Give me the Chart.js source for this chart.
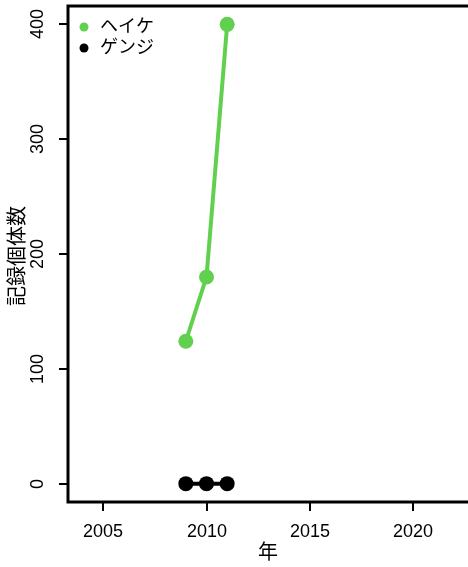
<!DOCTYPE html>
<html>
<head>
<meta charset="utf-8">
<script src="https://cdn.jsdelivr.net/npm/chart.js@4"></script>
<style>
  html, body { margin: 0; padding: 0; background: #fff; overflow: hidden; }
</style>
</head>
<body>
<canvas id="c" width="468" height="567"></canvas>
<script>
    "use strict";

    var years = [2009, 2010, 2011];
    var heikeCounts = [124, 180, 400];
    var genjiCounts = [0, 0, 0];
    var seriesNames = ['ヘイケ', 'ゲンジ'];
    var seriesColors = ['#61D04F', '#000000'];
    var xTicks = [2005, 2010, 2015, 2020];
    var yTicks = [0, 100, 200, 300, 400];
    var xTitle = '年';
    var yTitle = '記録個体数';

    var FONT = '18px "Liberation Sans", Arial, "Noto Sans CJK JP", sans-serif';
    var TITLE_FONT = '20px "Liberation Sans", Arial, "Noto Sans CJK JP", sans-serif';

    function toPoints(xs, ys) {
        return xs.map(function (x, i) { return { x: x, y: ys[i] }; });
    }

    // axes, box, legend drawn like base R graphics
    var baseAxes = {
        id: 'baseAxes',
        afterDraw: function (chart) {
            var ctx = chart.ctx;
            var a = chart.chartArea;
            var xs = chart.scales.x, ys = chart.scales.y;
            ctx.save();
            ctx.strokeStyle = '#000';
            ctx.fillStyle = '#000';
            ctx.lineWidth = 3;
            // box: right side runs off the page
            ctx.beginPath();
            ctx.moveTo(a.right + 5, a.top);
            ctx.lineTo(a.left, a.top);
            ctx.lineTo(a.left, a.bottom);
            ctx.lineTo(a.right + 5, a.bottom);
            ctx.stroke();

            ctx.lineWidth = 2;
            ctx.font = FONT;
            // x ticks
            ctx.textAlign = 'center';
            ctx.textBaseline = 'middle';
            xTicks.forEach(function (t) {
                var px = Math.round(xs.getPixelForValue(t));
                ctx.beginPath();
                ctx.moveTo(px, a.bottom);
                ctx.lineTo(px, a.bottom + 9);
                ctx.stroke();
                ctx.fillText(String(t), px, a.bottom + 30);
            });
            // y ticks, labels rotated
            yTicks.forEach(function (t) {
                var py = Math.round(ys.getPixelForValue(t));
                ctx.beginPath();
                ctx.moveTo(a.left, py);
                ctx.lineTo(a.left - 9, py);
                ctx.stroke();
                ctx.save();
                ctx.translate(a.left - 30, py);
                ctx.rotate(-Math.PI / 2);
                ctx.fillText(String(t), 0, 0);
                ctx.restore();
            });
            // titles
            ctx.font = TITLE_FONT;
            ctx.fillText(xTitle, 268, a.bottom + 51);
            ctx.save();
            ctx.translate(18, 256);
            ctx.rotate(-Math.PI / 2);
            ctx.fillText(yTitle, 0, 0);
            ctx.restore();

            // legend
            ctx.font = FONT;
            ctx.textAlign = 'left';
            seriesNames.forEach(function (name, i) {
                var ly = a.top + 21 + i * 21;
                ctx.beginPath();
                ctx.fillStyle = seriesColors[i];
                ctx.arc(a.left + 16, ly, 4.5, 0, Math.PI * 2);
                ctx.fill();
                ctx.fillStyle = '#000';
                ctx.fillText(name, a.left + 32, ly);
            });
            ctx.restore();
        }
    };

    var ctx = document.getElementById('c').getContext('2d');
    var chart = new Chart(ctx, {
        type: 'line',
        data: {
            datasets: [
                {
                    label: seriesNames[0],
                    data: toPoints(years, heikeCounts),
                    borderColor: seriesColors[0],
                    backgroundColor: seriesColors[0],
                    borderWidth: 4,
                    pointRadius: 7.5,
                    pointBorderWidth: 0,
                    clip: false
                },
                {
                    label: seriesNames[1],
                    data: toPoints(years, genjiCounts),
                    borderColor: seriesColors[1],
                    backgroundColor: seriesColors[1],
                    borderWidth: 4,
                    pointRadius: 7.5,
                    pointBorderWidth: 0,
                    clip: false
                }
            ]
        },
        options: {
            responsive: false,
            animation: false,
            events: [],
            layout: { autoPadding: false, padding: { left: 68, right: 0, top: 6, bottom: 65 } },
            plugins: { legend: { display: false }, tooltip: { enabled: false } },
            scales: {
                x: { type: 'linear', display: false, min: 2003.3, max: 2022.65 },
                y: { type: 'linear', display: false, min: -16, max: 416 }
            }
        },
        plugins: [baseAxes]
    });
</script>
</body>
</html>
